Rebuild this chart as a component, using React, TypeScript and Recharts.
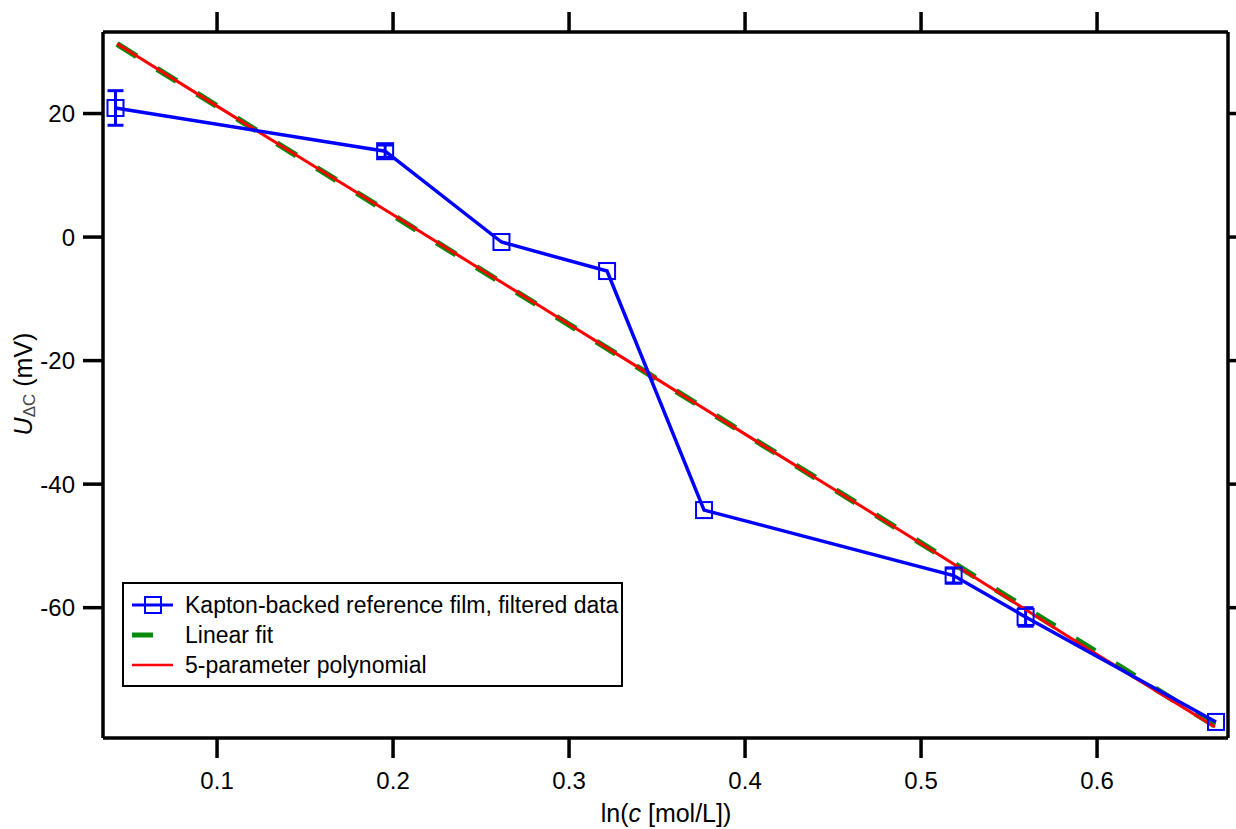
import React from 'react';
import {
  ComposedChart,
  Scatter,
  Line,
  XAxis,
  YAxis,
  ErrorBar,
} from 'recharts';

// Measured data: Kapton-backed reference film, filtered data
const measX = [0.0423, 0.1955, 0.2616, 0.3216, 0.3767, 0.5185, 0.5594, 0.6676];
const measY = [20.9, 13.9, -0.8, -5.5, -44.2, -54.8, -61.5, -78.5];
const measErr = [2.8, 1.0, 0.0, 0.0, 0.0, 1.2, 1.5, 0.0];

// Linear fit (endpoints)
const linX = [0.0432, 0.667];
const linY = [31.25, -79.1];

// 5-parameter polynomial (sampled)
const polyX = [0.0432, 0.1, 0.2, 0.3, 0.35, 0.4, 0.5, 0.6, 0.667];
const polyY = [31.3, 21.2, 3.6, -14.1, -23.0, -31.9, -49.6, -67.6, -79.3];

const xTicks = [0.1, 0.2, 0.3, 0.4, 0.5, 0.6];
const yTicks = [-60, -40, -20, 0, 20];
const xDomain = [0.0352, 0.6744];
const yDomain = [-81.1, 33.2];

const measData = measX.map((x, i) => ({ x, y: measY[i], err: measErr[i] }));
const linData = linX.map((x, i) => ({ x, y: linY[i] }));
const polyData = polyX.map((x, i) => ({ x, y: polyY[i] }));

const BLUE = '#0000ff';
const GREEN = '#0a8a0a';
const RED = '#ff0000';
const FONT = '"Liberation Sans", Arial, sans-serif';

const SquareShape = (props: any) => {
  const { cx, cy } = props;
  if (cx == null || cy == null) return null;
  return (
    <rect x={cx - 8} y={cy - 8} width={16} height={16} fill="none" stroke={BLUE} strokeWidth={2} />
  );
};

const YLabel = () => (
  <text
    transform="translate(32,384) rotate(-90)"
    textAnchor="middle"
    fontFamily={FONT}
    fontSize={25}
    fill="#000"
  >
    <tspan fontStyle="italic">U</tspan>
    <tspan fontSize={17} dy={3} fill="#444">ΔC</tspan>
    <tspan dy={-3}> (mV)</tspan>
  </text>
);

const XLabel = () => (
  <text x={666} y={822} textAnchor="middle" fontFamily={FONT} fontSize={25} fill="#000">
    <tspan>ln(</tspan>
    <tspan fontStyle="italic">c</tspan>
    <tspan> [mol/L])</tspan>
  </text>
);

const axisStroke = { stroke: '#000', strokeWidth: 3.5 };
const tickStyle = { fill: '#000', fontSize: 24, fontFamily: FONT };
const blank = () => '';

const LegendBox = () => (
  <div
    style={{
      position: 'absolute',
      left: 122,
      top: 582,
      width: 497,
      height: 101,
      border: '2px solid #000',
      background: '#fff',
      fontFamily: FONT,
      fontSize: 23,
      color: '#000',
    }}
  >
    <svg width={60} height={101} style={{ position: 'absolute', left: 0, top: 0 }}>
      <line x1={8} y1={21} x2={49} y2={21} stroke={BLUE} strokeWidth={3} />
      <rect x={21} y={13} width={16} height={16} fill="none" stroke={BLUE} strokeWidth={2} />
      <line x1={8} y1={51} x2={29} y2={51} stroke={GREEN} strokeWidth={5} />
      <line x1={8} y1={81} x2={49} y2={81} stroke={RED} strokeWidth={2.5} />
    </svg>
    {['Kapton-backed reference film, filtered data', 'Linear fit', '5-parameter polynomial'].map(
      (t, i) => (
        <div
          key={t}
          style={{
            position: 'absolute',
            left: 61,
            top: 7 + i * 30,
            height: 28,
            lineHeight: '28px',
            whiteSpace: 'nowrap',
          }}
        >
          {t}
        </div>
      )
    )}
  </div>
);

export default function App() {
  return (
    <div style={{ position: 'absolute', left: 0, top: 0, width: 1236, height: 829, background: '#fff' }}>
      <ComposedChart
        width={1236}
        height={829}
        margin={{ top: 12, right: 0, bottom: 0, left: 0 }}
      >
        <XAxis
          xAxisId="bottom"
          dataKey="x"
          type="number"
          domain={xDomain}
          ticks={xTicks}
          interval={0}
          allowDataOverflow
          height={91}
          tickSize={20}
          tickMargin={14}
          stroke="#000"
          strokeWidth={3.5}
          axisLine={axisStroke}
          tickLine={axisStroke}
          tick={tickStyle}
          tickFormatter={(v: number) => String(v)}
        />
        <XAxis
          xAxisId="top"
          orientation="top"
          dataKey="x"
          type="number"
          domain={xDomain}
          ticks={xTicks}
          interval={0}
          allowDataOverflow
          height={20}
          tickSize={20}
          stroke="#000"
          strokeWidth={3.5}
          axisLine={axisStroke}
          tickLine={axisStroke}
          tick={tickStyle}
          tickFormatter={blank}
        />
        <YAxis
          yAxisId="left"
          type="number"
          domain={yDomain}
          ticks={yTicks}
          interval={0}
          allowDataOverflow
          width={103}
          tickSize={20}
          tickMargin={8}
          stroke="#000"
          strokeWidth={3.5}
          axisLine={axisStroke}
          tickLine={axisStroke}
          tick={tickStyle}
        />
        <YAxis
          yAxisId="right"
          orientation="right"
          type="number"
          domain={yDomain}
          ticks={yTicks}
          interval={0}
          allowDataOverflow
          width={8}
          tickSize={20}
          stroke="#000"
          strokeWidth={3.5}
          axisLine={axisStroke}
          tickLine={axisStroke}
          tick={tickStyle}
          tickFormatter={blank}
        />
        <Scatter
          xAxisId="bottom"
          yAxisId="left"
          data={measData}
          dataKey="y"
          shape={SquareShape}
          line={{ stroke: BLUE, strokeWidth: 3.5 }}
          lineType="joint"
          isAnimationActive={false}
        >
          <ErrorBar dataKey="err" direction="y" width={8} stroke={BLUE} strokeWidth={3} isAnimationActive={false} />
        </Scatter>
        <Line
          xAxisId="bottom"
          yAxisId="left"
          data={linData}
          dataKey="y"
          type="linear"
          stroke={GREEN}
          strokeWidth={6}
          strokeDasharray="23 24"
          dot={false}
          activeDot={false}
          isAnimationActive={false}
        />
        <Line
          xAxisId="bottom"
          yAxisId="left"
          data={polyData}
          dataKey="y"
          type="monotone"
          stroke={RED}
          strokeWidth={3}
          dot={false}
          activeDot={false}
          isAnimationActive={false}
        />
        <YLabel />
        <XLabel />
      </ComposedChart>
      <LegendBox />
    </div>
  );
}
